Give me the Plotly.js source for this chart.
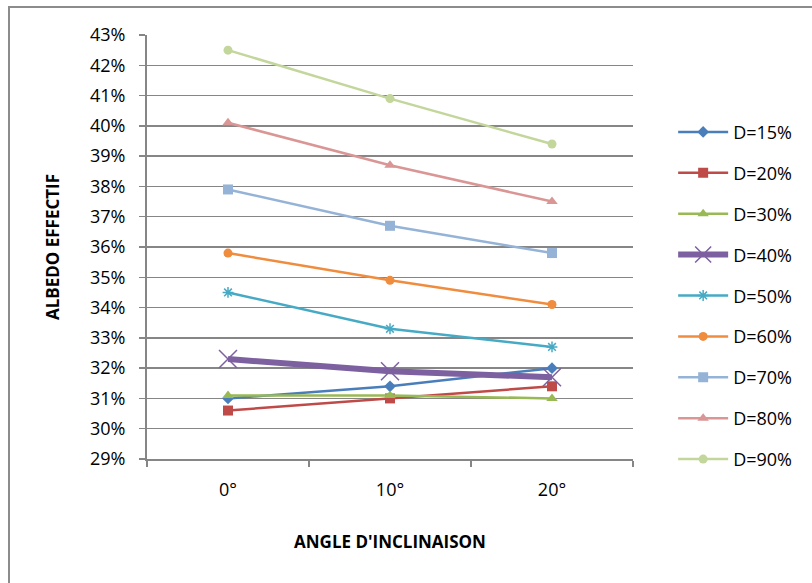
<!DOCTYPE html>
<html>
<head>
<meta charset="utf-8">
<script src="https://cdn.plot.ly/plotly-3.0.1.min.js"></script>
<style>
  html, body { margin: 0; padding: 0; background: #fff; }
  #wrap { position: relative; width: 812px; height: 583px; overflow: hidden; }
  #chart { position: absolute; left: 0; top: 0; width: 812px; height: 583px; }
  #frame { position: absolute; left: 8px; top: 6px; width: 900px; height: 700px;
           border-left: 2px solid #8c8c8c; border-top: 2px solid #8c8c8c; pointer-events: none; }
</style>
</head>
<body>
<div id="wrap">
  <div id="chart"></div>
  <div id="frame"></div>
</div>
<script>
const categories = ["0°", "10°", "20°"];
const seriesNames = ["D=15%", "D=20%", "D=30%", "D=40%", "D=50%", "D=60%", "D=70%", "D=80%", "D=90%"];
const d15 = [0.310, 0.314, 0.320];
const d20 = [0.306, 0.310, 0.314];
const d30 = [0.311, 0.311, 0.310];
const d40 = [0.323, 0.319, 0.317];
const d50 = [0.345, 0.333, 0.327];
const d60 = [0.358, 0.349, 0.341];
const d70 = [0.379, 0.367, 0.358];
const d80 = [0.401, 0.387, 0.375];
const d90 = [0.425, 0.409, 0.394];
const yTickValues = [0.29,0.30,0.31,0.32,0.33,0.34,0.35,0.36,0.37,0.38,0.39,0.40,0.41,0.42,0.43];

const values = [d15, d20, d30, d40, d50, d60, d70, d80, d90];
const colors = ["#4A7EBB", "#BE4B48", "#98B954", "#7D60A0", "#46AAC5", "#F08C3E", "#95B3D7", "#D99694", "#C3D69B"];
const symbols = ["diamond", "square", "triangle-up", "x-thin-open", "asterisk-open", "circle", "square", "triangle-up", "circle"];
const sizes = [9, 10, 10, 18, 9, 9, 10, 10, 9];
const widths = [2.5, 2.5, 2.5, 6, 2.5, 2.5, 2.5, 2.5, 2.5];

const FONT = "Open Sans, Lato, sans-serif";

const traces = values.map((v, i) => ({
  x: categories,
  y: v,
  name: seriesNames[i],
  type: "scatter",
  mode: "lines+markers",
  legendgroup: "g" + i,
  line: { color: colors[i], width: widths[i] },
  marker: {
    symbol: symbols[i], size: sizes[i], color: colors[i],
    line: { color: colors[i], width: (symbols[i].indexOf("open") >= 0 ? 1.5 : 0) }
  },
  hoverinfo: "skip"
}));

const layout = {
  width: 812, height: 583,
  margin: { l: 147, r: 179, t: 35, b: 124 },
  paper_bgcolor: "#ffffff",
  plot_bgcolor: "#ffffff",
  font: { family: FONT, size: 18, color: "#000" },
  showlegend: true,
  legend: {
    xref: "container", yref: "container",
    x: 0.829, y: 0.805, xanchor: "left", yanchor: "top",
    tracegroupgap: 14.5,
    itemwidth: 50,
    maxheight: 520,
    font: { family: FONT, size: 18, color: "#000" },
    bgcolor: "rgba(0,0,0,0)"
  },
  xaxis: {
    type: "category",
    range: [-0.5, 2.5],
    tickson: "boundaries",
    ticks: "outside", ticklen: 6, tickwidth: 1.5, tickcolor: "#868686",
    showline: true, linecolor: "#868686", linewidth: 2,
    showgrid: false, zeroline: false,
    ticklabelstandoff: 13,
    tickfont: { family: FONT, size: 18, color: "#000" },
    title: { text: "<b>ANGLE D'INCLINAISON</b>", font: { family: FONT, size: 17, color: "#000" }, standoff: 37 }
  },
  yaxis: {
    range: [0.29, 0.43],
    tickvals: yTickValues,
    tickformat: ".0%",
    ticks: "outside", ticklen: 6, tickwidth: 1.5, tickcolor: "#868686",
    showline: true, linecolor: "#868686", linewidth: 2,
    showgrid: true, gridcolor: "#868686", gridwidth: 1.5,
    zeroline: false,
    ticklabelstandoff: 10,
    tickfont: { family: FONT, size: 18, color: "#000" },
    title: { text: "<b>ALBEDO EFFECTIF</b>", font: { family: FONT, size: 17, color: "#000" }, standoff: 26 }
  }
};

Plotly.newPlot("chart", traces, layout, { staticPlot: true, displayModeBar: false });
</script>
</body>
</html>
